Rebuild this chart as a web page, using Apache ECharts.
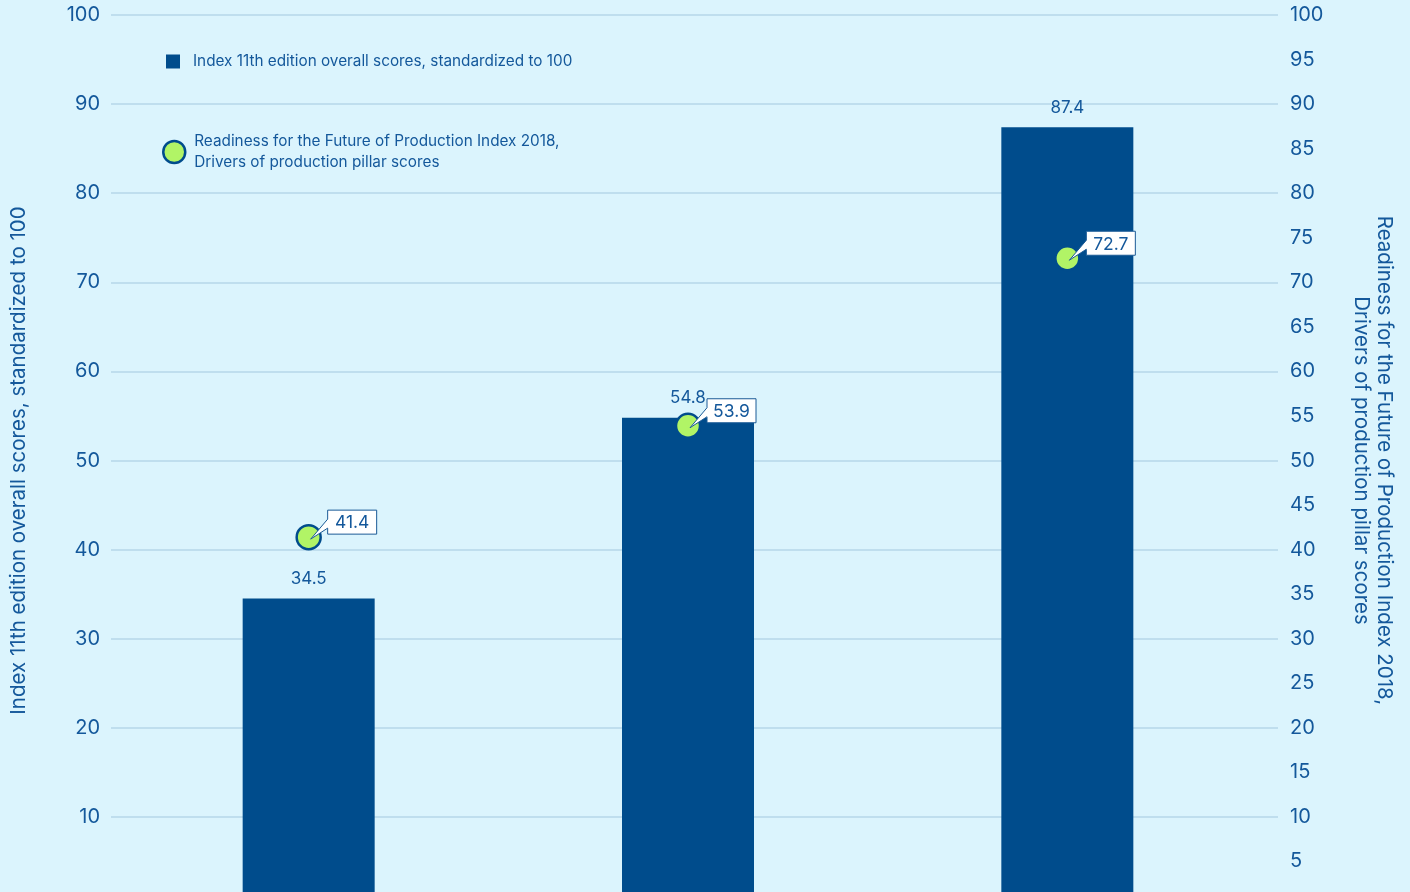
<!DOCTYPE html>
<html>
<head>
<meta charset="utf-8">
<title>Index scores vs. Drivers of production</title>
<script src="https://cdn.jsdelivr.net/npm/echarts@6/dist/echarts.min.js"></script>
<style>
  html, body { margin: 0; padding: 0; background: #dbf4fd; overflow: hidden; }
  /* the plot runs past the lower edge of the page, so the zero line sits below it */
  #chart { width: 1410px; height: 920px; }
</style>
</head>
<body>
<div id="chart"></div>
<script>
// Country groups (not labelled on the axis)
const categories = ['Group A', 'Group B', 'Group C'];
// Index 11th edition overall scores, standardized to 100
const indexScores = [34.5, 54.8, 87.4];
// Readiness for the Future of Production Index 2018, Drivers of production pillar scores
const driversScores = [41.4, 53.9, 72.7];
// Axis ticks
const leftTicks = [0, 10, 20, 30, 40, 50, 60, 70, 80, 90, 100];
const rightTicks = [0, 5, 10, 15, 20, 25, 30, 35, 40, 45, 50, 55, 60, 65, 70, 75, 80, 85, 90, 95, 100];

const barName = 'Index 11th edition overall scores, standardized to 100';
const dotName = 'Readiness for the Future of Production Index 2018, Drivers of production pillar scores';

const INK = '#14589b';
const BAR = '#004c8c';
const LIME = '#b1f466';
const FONT = 'Inter, "Noto Sans", sans-serif';

const chart = echarts.init(document.getElementById('chart'), null, { renderer: 'canvas' });

const PLOT_TOP = 15, PLOT_HEIGHT = 891;

const option = {
  backgroundColor: '#dbf4fd',
  animation: false,
  textStyle: { fontFamily: FONT },
  grid: [
    // frame holding the gridlines and both value axes
    { left: 110, width: 1168, top: PLOT_TOP, height: PLOT_HEIGHT },
    // frame holding the marks
    { left: 119, width: 1138, top: PLOT_TOP, height: PLOT_HEIGHT }
  ],
  legend: [
    {
      data: [barName],
      left: 166, top: 54, padding: 0,
      icon: 'rect', itemWidth: 14, itemHeight: 14, itemGap: 0,
      textStyle: { color: INK, fontSize: 15.3, fontFamily: FONT, padding: [0, 0, 0, 8] },
      selectedMode: false
    },
    {
      data: [dotName],
      left: 162, top: 131, padding: 0,
      icon: 'circle', itemWidth: 22, itemHeight: 22,
      itemStyle: { color: LIME, borderColor: BAR, borderWidth: 2.5 },
      formatter: (n) => n.replace(', ', ',\n'),
      textStyle: { color: INK, fontSize: 15.3, lineHeight: 21, fontFamily: FONT, padding: [0, 0, 0, 4] },
      selectedMode: false
    }
  ],
  xAxis: [
    { type: 'category', gridIndex: 0, data: categories, show: false },
    { type: 'category', gridIndex: 1, data: categories, show: false }
  ],
  yAxis: [
    {
      type: 'value', gridIndex: 0, position: 'left',
      min: leftTicks[0], max: leftTicks[leftTicks.length - 1], interval: leftTicks[1] - leftTicks[0],
      name: 'Index 11th edition overall scores, standardized to 100',
      nameLocation: 'middle', nameGap: 82, nameRotate: 90,
      nameTextStyle: { color: INK, fontSize: 20.5, fontFamily: FONT },
      axisLine: { show: false }, axisTick: { show: false },
      axisLabel: { color: INK, fontSize: 20, margin: 11, fontFamily: FONT,
                   formatter: (v) => (v === 0 ? '' : v) },
      splitLine: { show: true, lineStyle: { color: '#b6d7e9', width: 1.5 } }
    },
    {
      type: 'value', gridIndex: 0, position: 'right',
      min: rightTicks[0], max: rightTicks[rightTicks.length - 1], interval: rightTicks[1] - rightTicks[0],
      name: 'Readiness for the Future of Production Index 2018,\nDrivers of production pillar scores',
      nameLocation: 'middle', nameGap: 72, nameRotate: -90,
      nameTextStyle: { color: INK, fontSize: 20.5, lineHeight: 23, fontFamily: FONT },
      axisLine: { show: false }, axisTick: { show: false },
      axisLabel: { color: INK, fontSize: 20, margin: 12, fontFamily: FONT,
                   formatter: (v) => (v === 0 ? '' : v) },
      splitLine: { show: false }
    },
    { type: 'value', gridIndex: 1, min: 0, max: 100, show: false }
  ],
  series: [
    {
      name: barName,
      type: 'bar',
      xAxisIndex: 1, yAxisIndex: 2,
      data: indexScores,
      barWidth: 132,
      itemStyle: { color: BAR },
      label: {
        show: true, position: 'top', distance: 11,
        color: INK, fontSize: 17, fontFamily: FONT,
        formatter: (p) => p.value.toFixed(1)
      },
      z: 2
    },
    {
      name: dotName,
      type: 'scatter',
      xAxisIndex: 1, yAxisIndex: 2,
      data: driversScores,
      symbol: 'circle', symbolSize: 24,
      itemStyle: { color: LIME, borderColor: BAR, borderWidth: 2.5, opacity: 1 },
      z: 3
    },
    {
      // speech-bubble value callouts for the drivers scores
      name: 'callouts',
      type: 'custom',
      xAxisIndex: 1, yAxisIndex: 2,
      data: driversScores.map((v, i) => [i, v]),
      z: 4,
      renderItem: function (params, api) {
        const pt = api.coord([api.value(0), api.value(1)]);
        const txt = api.value(1).toFixed(1);
        const L = pt[0] + 19, T = pt[1] - 27, W = 49, H = 24;
        const R = L + W, B = T + H;
        return {
          type: 'group',
          children: [
            {
              type: 'polygon',
              shape: {
                points: [
                  [L, T], [R, T], [R, B], [L, B], [L, B - 6],
                  [pt[0] + 2, pt[1] + 2], [L, T + 9]
                ]
              },
              style: { fill: '#ffffff', stroke: '#1a5a96', lineWidth: 1 }
            },
            {
              type: 'text',
              style: {
                x: L + W / 2, y: T + H / 2 + 1,
                text: txt, align: 'center', verticalAlign: 'middle',
                fill: INK, fontSize: 17.5, fontFamily: FONT
              }
            }
          ]
        };
      }
    }
  ]
};

chart.setOption(option);
</script>
</body>
</html>
